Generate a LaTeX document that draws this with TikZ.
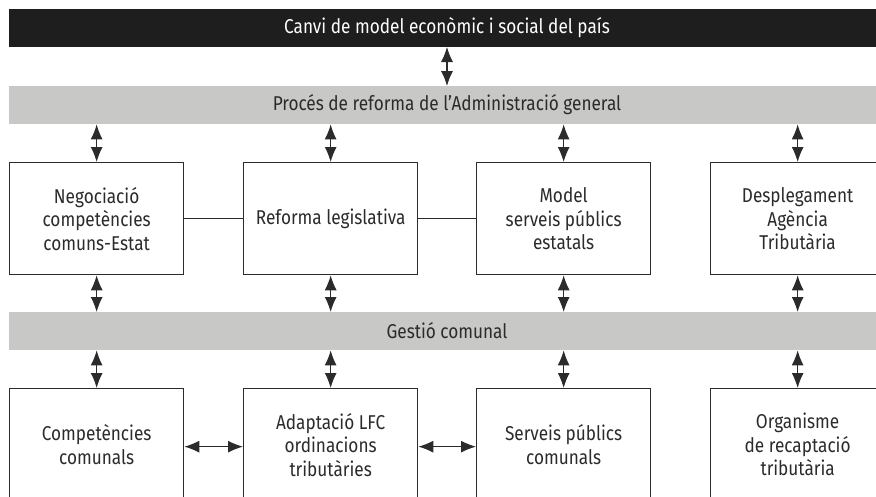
\documentclass[tikz,border=0pt]{standalone}
\usepackage{fontspec}
\setmainfont{Fira Sans}[FakeStretch=0.86]
\usetikzlibrary{arrows.meta}
\definecolor{bandblack}{HTML}{1E1E1E}
\definecolor{bandgray}{HTML}{C8C8C7}
\definecolor{ink}{HTML}{2B2B2B}
\tikzset{
  x=1pt, y=-1pt,
  band/.style={minimum height=38pt, minimum width=880pt, inner sep=0pt, anchor=north west},
  blackband/.style={band, fill=bandblack, text=white},
  grayband/.style={band, fill=bandgray, text=ink},
  stepbox/.style={draw=ink, line width=1.3pt, fill=white, text=ink, minimum width=174pt,
    minimum height=112pt, inner sep=0pt, anchor=north west, align=center},
  tip/.style={},
  dbl/.style={line width=1.1pt, draw=ink,
    {Latex[length=15pt,width=12pt]}-{Latex[length=15pt,width=12pt]}},
  plain/.style={line width=1.1pt, draw=ink},
}
\begin{document}
\begin{tikzpicture}[font=\fontsize{20}{23.5}\selectfont]
\useasboundingbox (0,0) rectangle (876,496);
\clip (0,0) rectangle (876,496);
% horizontal bands
\node[blackband] (top) at (9,9) {};
\node[text=white] at (447,28) {Canvi de model econòmic i social del país};
\node[grayband] (admin) at (9,86) {};
\node[text=ink] at (447,105) {Procés de reforma de l’Administració general};
\node[grayband] (gestio) at (9,312) {};
\node[text=ink] at (447,330.5) {Gestió comunal};
% upper row
\node[stepbox] (neg) at (9,162) {Negociació\\competències\\comuns-Estat};
\node[stepbox] (ref) at (243,162) {Reforma legislativa};
\node[stepbox] (mod) at (476,162) {Model\\serveis públics\\estatals};
\node[stepbox] (des) at (710,162) {Desplegament\\Agència\\Tributària};
% lower row
\node[stepbox] (comp) at (9,388) {Competències\\comunals};
\node[stepbox] (adap) at (243,388) {Adaptació LFC\\ordinacions\\tributàries};
\node[stepbox] (serv) at (476,388) {Serveis públics\\comunals};
\node[stepbox] (org) at (710,388) {Organisme\\de recaptació\\tributària};
% vertical links
\coordinate (t1) at (447,47);
\coordinate (t2) at (447,86);
\draw[dbl] (t1) -- (t2);
\foreach \b in {neg,ref,mod,des}{
  \draw[dbl] (admin.south -| \b.north) -- (\b.north);
  \draw[dbl] (\b.south) -- (gestio.north -| \b.south);
}
\foreach \b in {comp,adap,serv,org}{
  \draw[dbl] (gestio.south -| \b.north) -- (\b.north);
}
% horizontal links
\draw[plain] (neg.east) -- (ref.west);
\draw[plain] (ref.east) -- (mod.west);
\draw[dbl] ([yshift=-2pt]comp.east) -- ([yshift=-2pt]adap.west);
\draw[dbl] ([yshift=-2pt]adap.east) -- ([yshift=-2pt]serv.west);
\end{tikzpicture}
\end{document}
